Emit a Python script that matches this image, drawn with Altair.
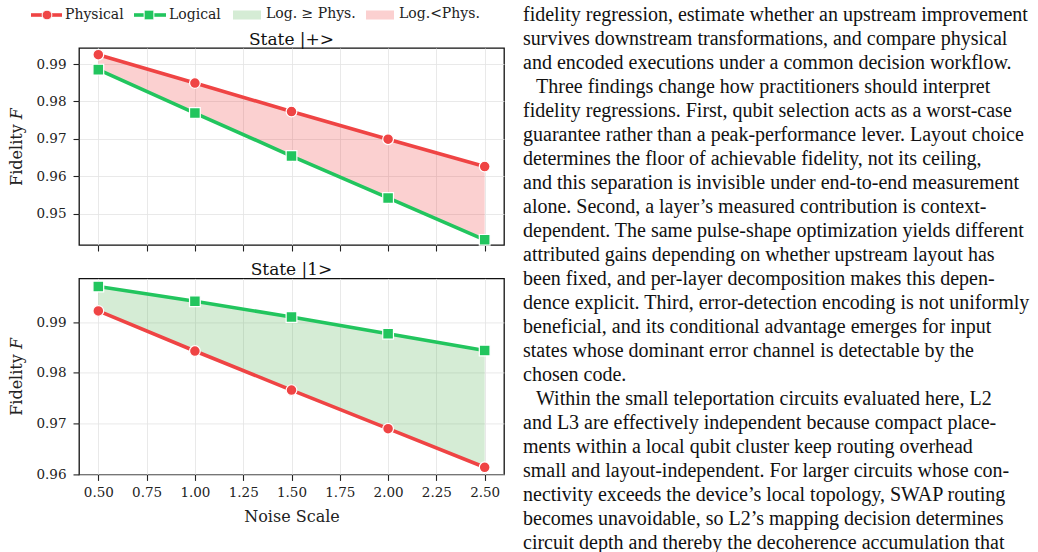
import altair as alt
import pandas as pd

# ---------------- data ----------------
noise = [0.5, 1.0, 1.5, 2.0, 2.5]
plus_phys = [0.9925, 0.9849, 0.9773, 0.9699, 0.9626]
plus_log = [0.9885, 0.9769, 0.9654, 0.9542, 0.9430]
one_phys = [0.9922, 0.9843, 0.9766, 0.9690, 0.9614]
one_log = [0.9970, 0.9941, 0.9910, 0.9877, 0.9844]

x_ticks = [0.5, 0.75, 1.0, 1.25, 1.5, 1.75, 2.0, 2.25, 2.5]
plus_yticks = [0.95, 0.96, 0.97, 0.98, 0.99]
one_yticks = [0.96, 0.97, 0.98, 0.99]

series_names = ["Physical", "Logical"]
region_names = ["Log. \u2265 Phys.", "Log.<Phys."]
panel_titles = ["State |+>", "State |1>"]

# body text: (indented first line?, lines)
paragraphs = [
    (False, [
        "fidelity regression, estimate whether an upstream improvement",
        "survives downstream transformations, and compare physical",
        "and encoded executions under a common decision workflow.",
    ]),
    (True, [
        "Three findings change how practitioners should interpret",
        "fidelity regressions. First, qubit selection acts as a worst-case",
        "guarantee rather than a peak-performance lever. Layout choice",
        "determines the floor of achievable fidelity, not its ceiling,",
        "and this separation is invisible under end-to-end measurement",
        "alone. Second, a layer\u2019s measured contribution is context-",
        "dependent. The same pulse-shape optimization yields different",
        "attributed gains depending on whether upstream layout has",
        "been fixed, and per-layer decomposition makes this depen-",
        "dence explicit. Third, error-detection encoding is not uniformly",
        "beneficial, and its conditional advantage emerges for input",
        "states whose dominant error channel is detectable by the",
        "chosen code.",
    ]),
    (True, [
        "Within the small teleportation circuits evaluated here, L2",
        "and L3 are effectively independent because compact place-",
        "ments within a local qubit cluster keep routing overhead",
        "small and layout-independent. For larger circuits whose con-",
        "nectivity exceeds the device\u2019s local topology, SWAP routing",
        "becomes unavoidable, so L2\u2019s mapping decision determines",
        "circuit depth and thereby the decoherence accumulation that",
    ]),
]

# ---------------- style ----------------
FONT = "DejaVu Serif"
BODY_FONT = "Liberation Serif"
RED = "#ef4444"
GREEN = "#22c55e"
GREEN_FILL = "#57b357"
RED_FILL = "#ef4343"
FILL_OPACITY = 0.25

color_scale = alt.Scale(domain=series_names + region_names,
                        range=[RED, GREEN, GREEN_FILL, RED_FILL])
shape_scale = alt.Scale(domain=series_names, range=["circle", "square"])

W = 425
H_TOP = 197
H_BOT = 196

dummy = alt.Data(values=[{}])


def make_panel(phys, log, ydom, yticks, show_x, title):
    long = pd.DataFrame({
        "noise": noise * 2,
        "fid": phys + log,
        "series": [series_names[0]] * len(noise) + [series_names[1]] * len(noise),
    })
    wide = pd.DataFrame({"noise": noise, "phys": phys, "log": log})
    wide["region"] = [region_names[0] if l >= p else region_names[1]
                      for p, l in zip(phys, log)]

    xenc = alt.X("noise:Q",
                 scale=alt.Scale(domain=[0.4, 2.6], nice=False, zero=False),
                 axis=alt.Axis(values=x_ticks, format=".2f", labels=show_x,
                               title="Noise Scale" if show_x else "",
                               labelPadding=5, titlePadding=10))
    yscale = alt.Scale(domain=ydom, nice=False, zero=False)
    yaxis = alt.Axis(values=yticks, format=".2f", title="Fidelity \U0001D439",
                     labelPadding=7, titlePadding=11)

    area = alt.Chart(wide).mark_area(opacity=FILL_OPACITY).encode(
        x=xenc,
        y=alt.Y("phys:Q", scale=yscale, axis=yaxis),
        y2="log:Q",
        color=alt.Color("region:N", scale=color_scale, legend=None),
    )
    lines = alt.Chart(long).mark_line(strokeWidth=3.6).encode(
        x=xenc,
        y=alt.Y("fid:Q", scale=yscale, axis=yaxis),
        color=alt.Color("series:N", scale=color_scale, legend=None),
        detail="series:N",
    )
    pts = alt.Chart(long).mark_point(filled=True, size=115, opacity=1,
                                     stroke="white", strokeWidth=1.2).encode(
        x=xenc,
        y=alt.Y("fid:Q", scale=yscale, axis=yaxis),
        color=alt.Color("series:N", scale=color_scale, legend=None),
        shape=alt.Shape("series:N", scale=shape_scale, legend=None),
    )
    ttl = alt.Chart(dummy).mark_text(text=title, align="center", baseline="alphabetic",
                                     font=FONT, fontSize=17, color="#111").encode(
        x=alt.value(W / 2), y=alt.value(-3))
    return [area, lines, pts, ttl]


top_layers = make_panel(plus_phys, plus_log, [0.94162, 0.99428], plus_yticks, False,
                        panel_titles[0])
bot_layers = make_panel(one_phys, one_log, [0.96, 0.9986], one_yticks, True,
                        panel_titles[1])

# ---------------- manual legend (top panel, pixel offsets from plot origin) ----------------
LY = -33
TXT = dict(align="left", baseline="middle", font=FONT, fontSize=14, color="#222")
leg = [
    alt.Chart(dummy).mark_rule(color=RED, strokeWidth=3.6).encode(
        x=alt.value(-48), x2=alt.value(-17), y=alt.value(LY)),
    alt.Chart(dummy).mark_point(shape="circle", filled=True, size=95, color=RED,
                                opacity=1, stroke="white", strokeWidth=1).encode(
        x=alt.value(-32), y=alt.value(LY)),
    alt.Chart(dummy).mark_text(text=series_names[0], **TXT).encode(
        x=alt.value(-14), y=alt.value(LY)),
    alt.Chart(dummy).mark_rule(color=GREEN, strokeWidth=3.6).encode(
        x=alt.value(55), x2=alt.value(87), y=alt.value(LY)),
    alt.Chart(dummy).mark_point(shape="square", filled=True, size=95, color=GREEN,
                                opacity=1, stroke="white", strokeWidth=1).encode(
        x=alt.value(70), y=alt.value(LY)),
    alt.Chart(dummy).mark_text(text=series_names[1], **TXT).encode(
        x=alt.value(90), y=alt.value(LY)),
    alt.Chart(dummy).mark_rect(color=GREEN_FILL, opacity=FILL_OPACITY).encode(
        x=alt.value(154), x2=alt.value(182), y=alt.value(LY - 4.5), y2=alt.value(LY + 4.5)),
    alt.Chart(dummy).mark_text(text=region_names[0], **TXT).encode(
        x=alt.value(187), y=alt.value(LY - 1)),
    alt.Chart(dummy).mark_rect(color=RED_FILL, opacity=FILL_OPACITY).encode(
        x=alt.value(287), x2=alt.value(315), y=alt.value(LY - 4.5), y2=alt.value(LY + 4.5)),
    alt.Chart(dummy).mark_text(text=region_names[1], **TXT).encode(
        x=alt.value(320), y=alt.value(LY - 1)),
]

# ---------------- body text on the right ----------------
BODY_X = 444
INDENT = 13
LINE_H = 24
first_base = -26.6
body = []
row = 0
for indented, lines in paragraphs:
    rest = lines
    if indented:
        body.append(alt.Chart(dummy).mark_text(
            text=lines[0], align="left", baseline="alphabetic", font=BODY_FONT,
            fontSize=20, color="#111").encode(
            x=alt.value(BODY_X + INDENT), y=alt.value(first_base + row * LINE_H)))
        row += 1
        rest = lines[1:]
    if rest:
        body.append(alt.Chart(dummy).mark_text(
            text=rest, align="left", baseline="alphabetic", font=BODY_FONT,
            fontSize=20, lineHeight=LINE_H, color="#111").encode(
            x=alt.value(BODY_X), y=alt.value(first_base + row * LINE_H)))
        row += len(rest)

# invisible anchor fixing the top-left corner of the canvas
anchor = alt.Chart(dummy).mark_rule(opacity=0, strokeWidth=0.1).encode(
    x=alt.value(-78), x2=alt.value(-77), y=alt.value(-47.3))

top = alt.layer(*top_layers, *leg, *body, anchor).properties(width=W, height=H_TOP)
bottom = alt.layer(*bot_layers).properties(width=W, height=H_BOT)

chart = alt.vconcat(top, bottom, spacing=33.4, bounds="flush").properties(
    padding=0
).configure_axis(
    labelFont=FONT, titleFont=FONT, labelFontSize=13.5, titleFontSize=16,
    titleFontWeight="normal", labelColor="#222", titleColor="#222",
    tickColor="#222", tickSize=6, tickWidth=1.1, domain=False,
    gridColor="#e3e3e3", gridWidth=0.8,
).configure_view(
    stroke="#111", strokeWidth=1.3
)

chart.save("out.html", embed_options={"renderer": "svg", "actions": False})
